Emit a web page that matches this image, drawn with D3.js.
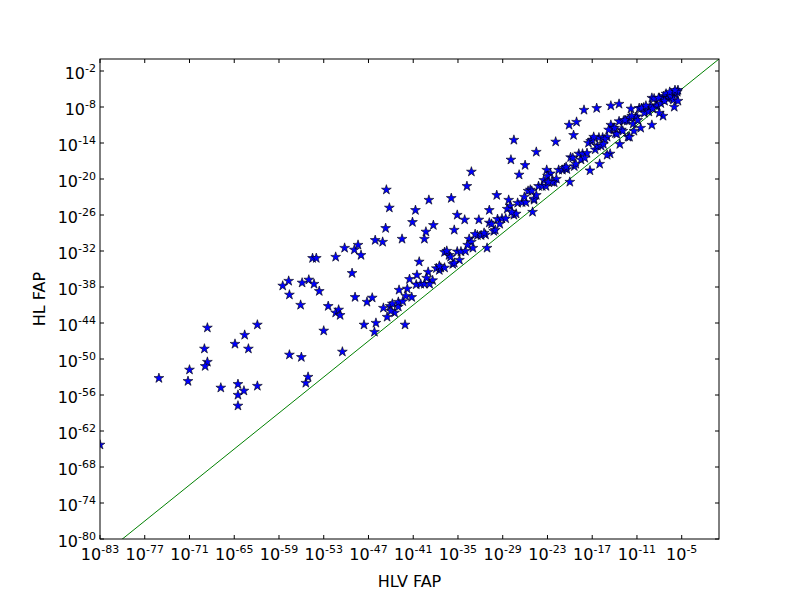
<!DOCTYPE html>
<html>
<head>
<meta charset="utf-8">
<script src="https://cdn.jsdelivr.net/npm/d3@7"></script>
<style>
  body { margin: 0; background: #fff; }
  text { font-family: "DejaVu Sans", sans-serif; }
</style>
</head>
<body>
<svg id="chart" width="800" height="600"></svg>
<script>
// log10 of HLV FAP and HL FAP for each event
var hlvExp = [-83,-75.1,-71.2,-71,-69,-68.6,-68.6,-68.9,-66.8,-64.9,-64.5,-64.5,-64.5,-63.7,-63.6,-63.1,-61.9,-61.9,
  -58.5,-57.7,-57.6,-57.6,-56.1,-56,-55.9,-55.4,-55.1,-54.5,-54,-55,-54.3,-53.6,-53,-52.4,-51.4,-51,-51.4,-50.2,-50.8,-50.5,
  -48.9,-49.2,-48.8,-48.4,-48,-47.6,-47.2,-46.5,-46.2,-46.1,-45.1,-44.7,-44.6,-44.2,-44.1,-43.5,-43,-42.9,-42.5,-42.1,
  -41.5,-41.1,-40.7,-40.2,-39.5,-39.3,-38.9,-38.3,-37.5,-36.8,-35.9,-35.5,-35.1,-34.1,-33.8,-33.2,-32.2,-31.1,-30.8,-29.8,
  -28.2,-27.5,-27.9,-26.8,-26,-24.5,-23.1,-21.9,-20.1,-19.1,-18.1,-16.4,-14.5,-13.4,-19.5,-24.8,-23.5,
  // dense band near the diagonal
  -46,-45,-44.5,-43.8,-43,-42.4,-41.8,-41.2,-40.6,-40,-39.5,-39,-38.4,-37.9,-37.3,-36.8,-36.2,-35.7,-35.1,-34.6,
  -34,-33.5,-33,-32.4,-31.9,-31.3,-30.8,-30.2,-29.7,-29.1,-28.6,-28,-27.5,-27,-26.4,-25.9,-25.3,-24.8,-24.2,-23.7,
  -23.2,-22.6,-22.1,-21.5,-21,-20.4,-19.9,-19.4,-18.8,-18.3,-17.7,-17.2,-16.6,-16.1,-15.6,-15,-14.5,-13.9,-13.4,-12.8,
  -12.3,-11.8,-11.2,-10.7,-10.1,-9.6,-9,-8.5,-8,-7.4,-6.9,-6.3,-5.8,
  -40.5,-38.8,-36.5,-34.8,-33.2,-31.5,-30,-28.4,-27.2,-25.6,-24.5,-23,-21.8,-20.7,-19.6,-18.5,-17.5,-16.3,-15.3,-14.2,
  -13.1,-12,-11,-10,-9.2,-8.3,-7.6,-6.7,-6,-5.5,
  -37.5,-35.5,-32.7,-29.4,-26.1,-22.4,-19.2,-17,-15.8,-14.8,-13.7,-12.6,-11.5,-10.4,-9.4,-8.7,-7.8,-7.1,-6.5,-5.6,
  -18,-16.8,-15.5,-14,-12.9,-11.7,-10.9,-9.8,-8.9,-8.1,-7.3,-6.6,-6.1,-5.9,-11.4,-12.2,-13.3,-14.6,-16,-17.3,
  -20.5,-22.9,-25.1,-27.8,-30.5,-33.7,-36,-39.2,-42,-44,
  -9,-7.5,-6,-12,-15,-20,-25,-10.5,-8,-5.5];
var hlExp = [-64.3,-53.2,-53.7,-51.8,-48.3,-44.8,-50.5,-51.2,-54.8,-47.5,-54.2,-56,-57.8,-55.3,-46,-48.3,-54.5,-44.3,
  -37.8,-37,-49.3,-39.3,-41,-49.7,-37.3,-54,-53,-33.2,-33.2,-36.8,-37.5,-38.7,-45.3,-41.2,-42.3,-41.8,-33,-31.5,-42.7,-48.8,
  -31.8,-35.7,-39.7,-31,-32.7,-44.3,-40.5,-39.8,-45.5,-30.2,-30.5,-28.2,-21.8,-24.8,-41.2,-42.3,-41.3,-38.5,-30,-44.3,
  -36.7,-27.2,-25.2,-33.8,-30,-28.8,-23.5,-27.7,-35.2,-32.2,-23.2,-28.5,-26,-26.8,-21.2,-18.8,-26.8,-31.5,-25.2,-22.7,
  -23.5,-13.5,-16.8,-19.3,-17.7,-15.5,-18.5,-13.8,-11,-10.5,-8.5,-8.2,-7.8,-7.5,-12.7,-23.5,-20.2,
  -44,-41.5,-43,-40.8,-40.5,-40.4,-38.3,-39.7,-37.6,-37.5,-37.5,-35.5,-36.9,-34.9,-34.8,-34.8,-32.7,-34.2,-32.1,-32.1,
  -32,-30,-31.5,-29.4,-29.4,-29.3,-27.3,-28.7,-26.7,-26.6,-26.6,-24.5,-26,-24,-23.9,-23.9,-21.8,-23.3,-21.2,-21.2,
  -21.2,-19.1,-20.6,-18.5,-18.5,-18.4,-16.4,-17.9,-15.8,-15.8,-15.7,-13.7,-15.1,-13.1,-13.1,-13,-11,-12.4,-10.4,-10.3,
  -10.3,-8.3,-9.7,-8.2,-8.1,-8.6,-6.5,-7.8,-6.5,-6.2,-6.6,-5.8,-6,
  -36,-37.5,-32,-33.5,-30.5,-29,-28.5,-25,-25.8,-22,-22.7,-19.5,-20,-18.2,-16.5,-16.8,-14,-14.5,-13.4,-11.5,
  -11.8,-9.8,-9.6,-9,-7.8,-7.8,-6.8,-6.5,-5.6,-5.2,
  -34.5,-34,-29.2,-27.5,-23,-20.5,-17.5,-13.5,-14.5,-11.8,-12.5,-10.2,-10.8,-8.2,-8.8,-6.6,-7.4,-5.8,-6.2,-5.5,
  -16.5,-13,-14.2,-11.5,-12,-9.5,-10.2,-7.8,-8.3,-6.5,-7,-5.5,-6.8,-5.2,-12,-13,-14.2,-15.8,-17.5,-18.6,
  -18,-20.5,-22,-25.5,-27.5,-31,-33,-36.5,-39.5,-42,
  -11,-9.5,-8,-13,-16,-20.5,-25.5,-11.5,-9,-7];
var xTicks = [-83,-77,-71,-65,-59,-53,-47,-41,-35,-29,-23,-17,-11,-5];
var yTicks = [-80,-74,-68,-62,-56,-50,-44,-38,-32,-26,-20,-14,-8,-2];

var svg = d3.select("#chart");
var pLeft = 100, pRight = 719, pTop = 59, pBottom = 539;

var x = d3.scaleLinear().domain([-83, 0]).range([pLeft, pRight]);
var y = d3.scaleLinear().domain([-80, 0]).range([pBottom, pTop]);

var g = svg.append("g");

// y = x reference line, clipped to the axes
svg.append("clipPath").attr("id", "clip").append("rect")
  .attr("x", pLeft).attr("y", pTop).attr("width", pRight - pLeft).attr("height", pBottom - pTop);

g.append("line")
  .attr("clip-path", "url(#clip)")
  .attr("x1", x(-83)).attr("y1", y(-83))
  .attr("x2", x(0)).attr("y2", y(0))
  .attr("stroke", "#008000").attr("stroke-width", 1);

var star = d3.symbol().type(d3.symbolStar).size(30);
g.append("g").attr("clip-path", "url(#clip)")
  .selectAll("path")
  .data(hlvExp.map(function (d, i) { return [d, hlExp[i]]; }))
  .enter().append("path")
  .attr("transform", function (d) { return "translate(" + x(d[0]) + "," + y(d[1]) + ")"; })
  .attr("d", star)
  .attr("fill", "#0000ff")
  .attr("stroke", "#000")
  .attr("stroke-width", 0.6);

// frame
g.append("rect")
  .attr("x", pLeft).attr("y", pTop).attr("width", pRight - pLeft).attr("height", pBottom - pTop)
  .attr("fill", "none").attr("stroke", "#000");

function sup(sel, e) {
  sel.append("tspan").text("10");
  sel.append("tspan").attr("dy", -7).attr("font-size", 11).text(e);
}

// ticks
xTicks.forEach(function (t) {
  var px = x(t);
  g.append("line").attr("x1", px).attr("x2", px).attr("y1", pBottom).attr("y2", pBottom - 4).attr("stroke", "#000");
  g.append("line").attr("x1", px).attr("x2", px).attr("y1", pTop).attr("y2", pTop + 4).attr("stroke", "#000");
  var tx = g.append("text").attr("x", px).attr("y", pBottom + 21).attr("text-anchor", "middle").attr("font-size", 16);
  sup(tx, t);
});
yTicks.forEach(function (t) {
  var py = y(t);
  g.append("line").attr("y1", py).attr("y2", py).attr("x1", pLeft).attr("x2", pLeft + 4).attr("stroke", "#000");
  g.append("line").attr("y1", py).attr("y2", py).attr("x1", pRight).attr("x2", pRight - 4).attr("stroke", "#000");
  var ty = g.append("text").attr("x", pLeft - 4).attr("y", py + 8).attr("text-anchor", "end").attr("font-size", 16);
  sup(ty, t);
});

g.append("text").attr("x", (pLeft + pRight) / 2).attr("y", 587).attr("text-anchor", "middle")
  .attr("font-size", 16).text("HLV FAP");
g.append("text").attr("transform", "translate(45," + (pTop + pBottom) / 2 + ") rotate(-90)")
  .attr("text-anchor", "middle").attr("font-size", 16).text("HL FAP");
</script>
</body>
</html>
